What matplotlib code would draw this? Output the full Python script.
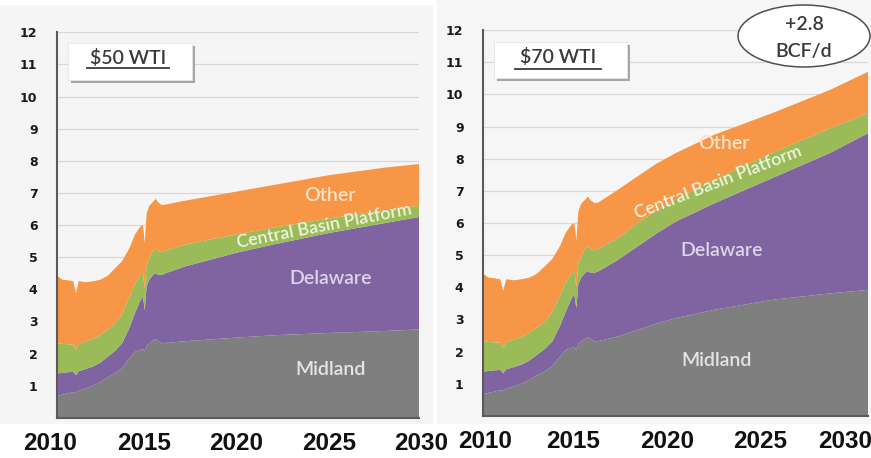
import matplotlib
matplotlib.use("Agg")
import matplotlib.pyplot as plt
from matplotlib.patches import Rectangle, Ellipse
from matplotlib.lines import Line2D
from matplotlib.transforms import Affine2D, ScaledTranslation

plt.rcParams['font.family'] = ['Lato', 'DejaVu Sans']

# Permian gas production by sub-basin, Bcf/d
basins = ["Midland", "Delaware", "Central Basin Platform", "Other"]
colors = ["#7f7f7f", "#8064a2", "#9bbb59", "#f79646"]
label_colors = ["#e4e4e4", "#ddd4ea", "#eef5e2", "#fde2c8"]
label_sizes = [14, 14, 12.8, 14]

# Historical production (shared by both price cases)
hist_years = [2010.0, 2010.3, 2010.6, 2010.9, 2011.05, 2011.2, 2011.6, 2012.0,
              2012.4, 2012.8, 2013.2, 2013.6, 2014.0, 2014.3, 2014.6, 2014.75,
              2014.85, 2014.95, 2015.1, 2015.3, 2015.45, 2015.6, 2015.8, 2016.0]
hist_midland = [0.68, 0.72, 0.76, 0.80, 0.80, 0.84, 0.92, 1.00, 1.12, 1.26, 1.38, 1.55,
                1.85, 2.05, 2.12, 2.15, 2.05, 2.25, 2.32, 2.40, 2.45, 2.38, 2.32, 2.33]
hist_delaware = [0.70, 0.68, 0.66, 0.63, 0.53, 0.61, 0.60, 0.60, 0.60, 0.64, 0.70, 0.77,
                 0.95, 1.20, 1.53, 1.63, 1.30, 1.85, 1.98, 2.05, 2.05, 2.07, 2.13, 2.17]
hist_cbp = [0.94, 0.90, 0.87, 0.85, 0.79, 0.85, 0.86, 0.86, 0.86, 0.84, 0.87, 0.90,
            0.95, 0.90, 0.80, 0.72, 0.65, 0.65, 0.65, 0.75, 0.78, 0.73, 0.70, 0.70]
hist_other = [2.10, 2.00, 1.99, 1.97, 1.76, 1.95, 1.84, 1.79, 1.72, 1.68, 1.70, 1.66,
              1.53, 1.55, 1.50, 1.50, 1.45, 1.60, 1.65, 1.52, 1.54, 1.52, 1.47, 1.44]

# Forecast years
fcst_years = [2017, 2018, 2019, 2020, 2022, 2025, 2028, 2030]

# $50 WTI case
wti50_midland = [2.38, 2.42, 2.46, 2.50, 2.57, 2.64, 2.70, 2.75]
wti50_delaware = [2.32, 2.43, 2.54, 2.65, 2.83, 3.11, 3.35, 3.50]
wti50_cbp = [0.68, 0.65, 0.61, 0.57, 0.52, 0.45, 0.40, 0.35]
wti50_other = [1.37, 1.35, 1.34, 1.33, 1.33, 1.35, 1.33, 1.30]

# $70 WTI case
wti70_midland = [2.47, 2.67, 2.87, 3.04, 3.30, 3.61, 3.81, 3.92]
wti70_delaware = [2.38, 2.59, 2.80, 3.00, 3.31, 3.78, 4.36, 4.87]
wti70_cbp = [0.67, 0.73, 0.71, 0.68, 0.73, 0.78, 0.77, 0.62]
wti70_other = [1.51, 1.45, 1.46, 1.45, 1.40, 1.24, 1.19, 1.29]

year_ticks = [2010, 2015, 2020, 2025, 2030]
y_ticks = list(range(1, 13))

W, H = 871, 458
fig = plt.figure(figsize=(W / 100, H / 100), dpi=100, facecolor="white")
# pixel coordinates measured from the top-left corner of the figure
px = Affine2D().scale(1 / W, -1 / H).translate(0, 1) + fig.transFigure

# panel backgrounds
fig.add_artist(Rectangle((0, 5), 433, 419, transform=px, facecolor="#f5f5f5",
                         edgecolor="none", zorder=-10))
fig.add_artist(Rectangle((437, 0), 434, 424, transform=px, facecolor="#f6f6f6",
                         edgecolor="none", zorder=-10))

panels = [
    dict(rect=[57 / W, 1 - 417.8 / H, 362 / W, 385.5 / H],
         series=[hist_midland + wti50_midland, hist_delaware + wti50_delaware,
                 hist_cbp + wti50_cbp, hist_other + wti50_other],
         title="$50 WTI", box=(68, 43, 124, 37), title_xy=(128, 58), ul=(87, 169, 67.5),
         labels=[(2025.1, 1.49, 0), (2025.1, 4.34, 0), (2024.75, 5.98, 11), (2025.1, 6.93, 0)],
         xshift=[-7, -3, -2, 1, 2]),
    dict(rect=[483 / W, 1 - 416 / H, 385 / W, 386 / H],
         series=[hist_midland + wti70_midland, hist_delaware + wti70_delaware,
                 hist_cbp + wti70_cbp, hist_other + wti70_other],
         title="$70 WTI", box=(494, 42, 133, 36), title_xy=(558, 57), ul=(515, 601, 68.5),
         labels=[(2022.15, 1.71, 0), (2022.4, 5.16, 0), (2022.2, 7.27, 21), (2022.5, 8.46, 0)],
         xshift=[2, -6, -8, -12, -23]),
]

years = hist_years + fcst_years

for p in panels:
    ax = fig.add_axes(p["rect"])
    ax.patch.set_alpha(0)
    ax.stackplot(years, *p["series"], colors=colors, linewidth=0)
    ax.set_xlim(2010, 2030)
    ax.set_ylim(0, 12)
    ax.set_axisbelow(True)
    ax.yaxis.grid(True, color="#d8d8d8", linewidth=0.9)
    ax.set_yticks(y_ticks)
    ax.set_yticklabels([str(v) for v in y_ticks], fontfamily="DejaVu Sans",
                       fontweight="bold", fontsize=9, color="#1a1a1a")
    ax.set_xticks(year_ticks)
    ax.set_xticklabels([str(v) for v in year_ticks], fontfamily="Liberation Sans",
                       fontweight="bold", fontsize=17.5, color="#111111")
    ax.tick_params(axis="y", length=0, pad=14)
    ax.tick_params(axis="x", length=0, pad=10)
    for lab, dx in zip(ax.get_xticklabels(), p["xshift"]):
        lab.set_transform(lab.get_transform() + ScaledTranslation(dx / 100, 0, fig.dpi_scale_trans))
    for side in ("top", "right"):
        ax.spines[side].set_visible(False)
    for side in ("left", "bottom"):
        ax.spines[side].set_color("#5a5a5a")
        ax.spines[side].set_linewidth(1.5)

    # basin labels inside the areas
    for name, col, size, (lx, ly, rot) in zip(basins, label_colors, label_sizes, p["labels"]):
        ax.text(lx, ly, name, ha="center", va="center", rotation=rot,
                rotation_mode="anchor", fontsize=size, fontweight="semibold", color=col)

    # price-case box with drop shadow
    bx, by, bw, bh = p["box"]
    fig.add_artist(Rectangle((bx + 3, by + 3), bw, bh, transform=px,
                             facecolor="#a6a6a6", edgecolor="none", zorder=5))
    fig.add_artist(Rectangle((bx, by), bw, bh, transform=px,
                             facecolor="white", edgecolor="#e6e6e6", linewidth=0.6, zorder=6))
    tx, ty = p["title_xy"]
    fig.text(tx, ty, p["title"], transform=px, ha="center", va="center",
             fontsize=14, fontweight="semibold", color="#3a3a3a", zorder=7)
    x0, x1, uy = p["ul"]
    fig.add_artist(Line2D([x0, x1], [uy, uy], transform=px, color="#3a3a3a",
                          linewidth=1.3, zorder=7))

# incremental volume callout
fig.add_artist(Ellipse((804, 36), 132, 62, transform=px, facecolor="white",
                       edgecolor="#505050", linewidth=1.1, zorder=6))
fig.text(804, 24, "+2.8", transform=px, ha="center", va="center",
         fontsize=14, fontweight="semibold", color="#3a3a3a", zorder=7)
fig.text(804, 51, "BCF/d", transform=px, ha="center", va="center",
         fontsize=14, fontweight="semibold", color="#3a3a3a", zorder=7)

fig.savefig("out.png", dpi=100, facecolor=fig.get_facecolor())
